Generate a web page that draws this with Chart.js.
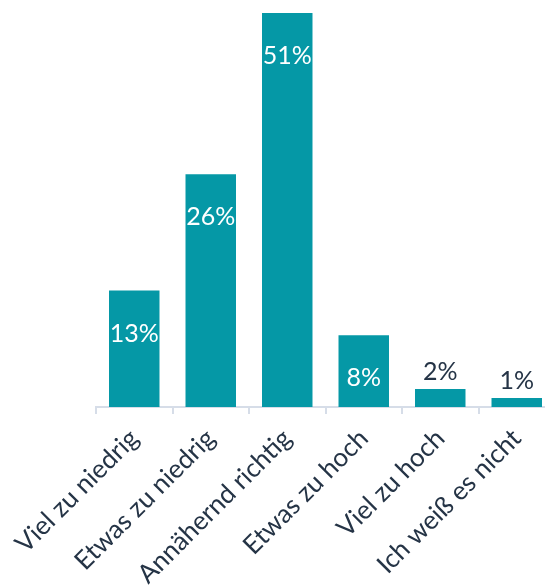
<!DOCTYPE html>
<html>
<head>
<meta charset="utf-8">
<script src="https://cdn.jsdelivr.net/npm/chart.js@4"></script>
<style>
  html, body { margin: 0; padding: 0; background: #fff; overflow: hidden; }
  #wrap { width: 562px; height: 586px; }
</style>
</head>
<body>
<div id="wrap"><canvas id="einschaetzungChart"></canvas></div>
<script>
const categories = ['Viel zu niedrig', 'Etwas zu niedrig', 'Annähernd richtig', 'Etwas zu hoch', 'Viel zu hoch', 'Ich weiß es nicht'];
const shares = [13, 26, 51, 8, 2, 1];

const barColor = '#0598a6';
const textColor = '#253446';

// value labels: white inside tall bars, dark above short ones
const valueLabels = {
    id: 'valueLabels',
    afterDatasetsDraw(chart) {
        const { ctx, chartArea } = chart;
        const meta = chart.getDatasetMeta(0);
        ctx.save();
        ctx.font = '25px Lato, "Open Sans", sans-serif';
        ctx.textAlign = 'center';
        ctx.textBaseline = 'middle';
        meta.data.forEach((bar, i) => {
            const top = Math.max(bar.y, chartArea.top);
            const h = bar.base - top;
            let y;
            if (h > 50) {
                ctx.fillStyle = '#ffffff';
                y = top + 43;
            } else {
                ctx.fillStyle = textColor;
                y = top - 17;
            }
            ctx.fillText(shares[i] + '%', bar.x, y);
        });
        ctx.restore();
    }
};

const ctx = document.getElementById('einschaetzungChart').getContext('2d');
new Chart(ctx, {
    type: 'bar',
    data: {
        labels: categories,
        datasets: [{
            data: shares,
            backgroundColor: barColor,
            categoryPercentage: 1,
            barPercentage: 0.66
        }]
    },
    options: {
        responsive: true,
        maintainAspectRatio: false,
        animation: false,
        layout: { padding: { top: 13, left: 96, right: 7, bottom: 0 } },
        plugins: {
            legend: { display: false },
            tooltip: { enabled: false }
        },
        scales: {
            x: {
                afterFit(scale) { scale.height = 179; },
                border: { display: true, color: '#d6dde8', width: 2 },
                grid: { drawOnChartArea: false, color: '#d6dde8', lineWidth: 2, tickLength: 7, offset: true },
                ticks: {
                    color: textColor,
                    font: { size: 26, family: 'Lato, "Open Sans", sans-serif' },
                    minRotation: 45,
                    maxRotation: 45,
                    padding: 9
                }
            },
            y: {
                display: false,
                min: 0,
                max: 44
            }
        }
    },
    plugins: [valueLabels]
});
</script>
</body>
</html>
